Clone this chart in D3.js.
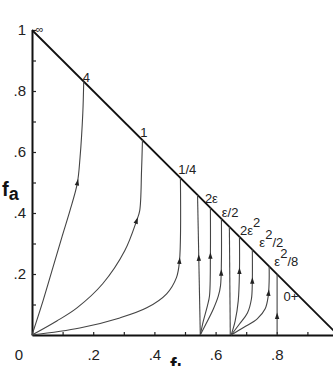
<!DOCTYPE html>
<html>
<head>
<meta charset="utf-8">
<script src="https://cdn.jsdelivr.net/npm/d3@7"></script>
<style>
  body { margin: 0; background: #fff; }
  text { font-family: "Liberation Sans", Arial, sans-serif; }
</style>
</head>
<body>
<script>
// trajectories, [fb, fa]
const traj4 = [[0,0],[0.036,0.112],[0.068,0.22],[0.098,0.322],[0.124,0.408],[0.148,0.497],[0.157,0.582],[0.166,0.727],[0.169,0.831]];
const traj1 = [[0,0],[0.081,0.046],[0.147,0.089],[0.231,0.168],[0.303,0.276],[0.342,0.375],[0.352,0.408],[0.358,0.539],[0.361,0.639]];
const trajQuarter = [[0,0],[0.156,0.023],[0.287,0.056],[0.375,0.089],[0.44,0.135],[0.472,0.188],[0.482,0.243],[0.485,0.515]];
const trajA0 = [[0.55,0],[0.541,0.459]];
const trajA1 = [[0.55,0],[0.56,0.046],[0.573,0.095],[0.58,0.128],[0.583,0.26],[0.583,0.417]];
const trajA2 = [[0.55,0],[0.57,0.039],[0.593,0.086],[0.609,0.128],[0.616,0.161],[0.619,0.243],[0.619,0.381]];
const trajB0 = [[0.648,0],[0.645,0.355]];
const trajB1 = [[0.651,0],[0.664,0.046],[0.674,0.112],[0.678,0.211],[0.678,0.322]];
const trajB2 = [[0.651,0],[0.678,0.036],[0.704,0.072],[0.717,0.118],[0.72,0.178],[0.72,0.28]];
const trajB3 = [[0.651,0],[0.694,0.026],[0.736,0.053],[0.762,0.086],[0.772,0.128],[0.775,0.178],[0.775,0.225]];
const trajZero = [[0.801,0],[0.801,0.199]];

const trajectories = [traj4, traj1, trajQuarter, trajA0, trajA1, trajA2, trajB0, trajB1, trajB2, trajB3, trajZero];
// fa where each arrow head sits (null = none)
const arrowFa = [0.5, 0.375, 0.243, 0.253, 0.26, 0.204, null, 0.21, 0.178, 0.138, 0.062];

// boundary fa + fb = 1
const boundary = [[0,1],[1,0]];

// labels on the trajectories, placed in data space
const labelText = ["\u221e", "4", "1", "1/4", "2\u03b5", "\u03b5/2", "2\u03b5\u00b2", "\u03b5\u00b2/2", "\u03b5\u00b2/8", "0+"];
const labelAt = [[0.012,0.99],[0.166,0.83],[0.354,0.648],[0.478,0.527],[0.565,0.433],[0.62,0.387],[0.68,0.327],[0.743,0.29],[0.792,0.226],[0.822,0.11]];

const tickValues = [0.1,0.2,0.3,0.4,0.5,0.6,0.7,0.8,0.9,1];
const tickLabels = ["",".2","",".4","",".6","",".8","","1"];

const W = 333, H = 366;
const svg = d3.select("body").append("svg")
    .attr("width", W)
    .attr("height", H);

const x = d3.scaleLinear().domain([0, 1]).range([32, 338]);
const y = d3.scaleLinear().domain([0, 1]).range([335, 30]);

// axes
const yAxis = d3.axisLeft(y)
  .tickValues(tickValues)
  .tickSizeInner(-4)
  .tickSizeOuter(0)
  .tickPadding(6)
  .tickFormat((d, i) => tickLabels[i]);

const xAxis = d3.axisBottom(x)
  .tickValues(tickValues)
  .tickSizeInner(-3)
  .tickSizeOuter(0)
  .tickPadding(14)
  .tickFormat((d, i) => tickLabels[i]);

const gy = svg.append("g")
  .attr("transform", `translate(${x(0)},0)`)
  .call(yAxis);
const gx = svg.append("g")
  .attr("transform", `translate(0,${y(0)})`)
  .call(xAxis);

[gx, gy].forEach(g => {
  g.select(".domain").attr("stroke", "#111").attr("stroke-width", 2);
  g.selectAll(".tick line").attr("stroke", "#222").attr("stroke-width", 1.2);
  g.selectAll(".tick text")
    .attr("fill", "#222")
    .style("font-size", "15px")
    .style("font-family", "'Liberation Sans', Arial, sans-serif");
});

// corner zero
svg.append("text")
  .attr("x", 19).attr("y", 360)
  .attr("text-anchor", "middle")
  .attr("fill", "#222")
  .style("font-size", "15px")
  .text("0");

// the fa + fb = 1 line
const line = d3.line().x(d => x(d[0])).y(d => y(d[1]));
svg.append("path")
  .attr("d", line(boundary))
  .attr("fill", "none")
  .attr("stroke", "#111")
  .attr("stroke-width", 1.8);

// trajectories
const smooth = d3.line()
  .x(d => x(d[0]))
  .y(d => y(d[1]))
  .curve(d3.curveCatmullRom.alpha(0.5));

const paths = svg.append("g").selectAll("path")
  .data(trajectories)
  .join("path")
  .attr("d", d => smooth(d))
  .attr("fill", "none")
  .attr("stroke", "#444")
  .attr("stroke-width", 1.1);

// arrow heads: find the point on each path at the given fa
paths.each(function(d, i) {
  const fa = arrowFa[i];
  if (fa == null) return;
  const node = this;
  const total = node.getTotalLength();
  const target = y(fa);
  let lo = 0, hi = total;
  for (let k = 0; k < 40; k++) {
    const mid = (lo + hi) / 2;
    if (node.getPointAtLength(mid).y > target) lo = mid; else hi = mid;
  }
  const p = node.getPointAtLength(lo);
  const a = node.getPointAtLength(Math.max(0, lo - 2));
  const b = node.getPointAtLength(Math.min(total, lo + 2));
  const ang = Math.atan2(b.y - a.y, b.x - a.x) * 180 / Math.PI;
  svg.append("path")
    .attr("d", "M3.5,0 L-3,-2.2 L-3,2.2 Z")
    .attr("transform", `translate(${p.x},${p.y}) rotate(${ang})`)
    .attr("fill", "#222");
});

// trajectory labels, "²" drawn as a raised 2
svg.append("g").selectAll("text")
  .data(labelText)
  .join("text")
  .attr("x", (d, i) => x(labelAt[i][0]))
  .attr("y", (d, i) => y(labelAt[i][1]))
  .attr("fill", "#222")
  .style("font-size", (d, i) => i === 0 ? "11px" : "13px")
  .each(function(d) {
    const t = d3.select(this);
    const parts = d.split("\u00b2");
    parts.forEach((s, j) => {
      if (j > 0) {
        t.append("tspan").attr("dy", -8).text("2");
        t.append("tspan").attr("dy", 8).text(s);
      } else {
        t.append("tspan").text(s);
      }
    });
  });

// axis titles
const fa = svg.append("text")
  .attr("x", 2).attr("y", 196)
  .attr("fill", "#111")
  .style("font-size", "20px")
  .style("font-weight", "bold");
fa.append("tspan").text("f");
fa.append("tspan").attr("dy", 4).style("font-size", "18px").text("a");

const fb = svg.append("text")
  .attr("x", 170).attr("y", 372)
  .attr("fill", "#111")
  .style("font-size", "20px")
  .style("font-weight", "bold");
fb.append("tspan").text("f");
fb.append("tspan").attr("dy", 4).style("font-size", "18px").text("b");
</script>
</body>
</html>
